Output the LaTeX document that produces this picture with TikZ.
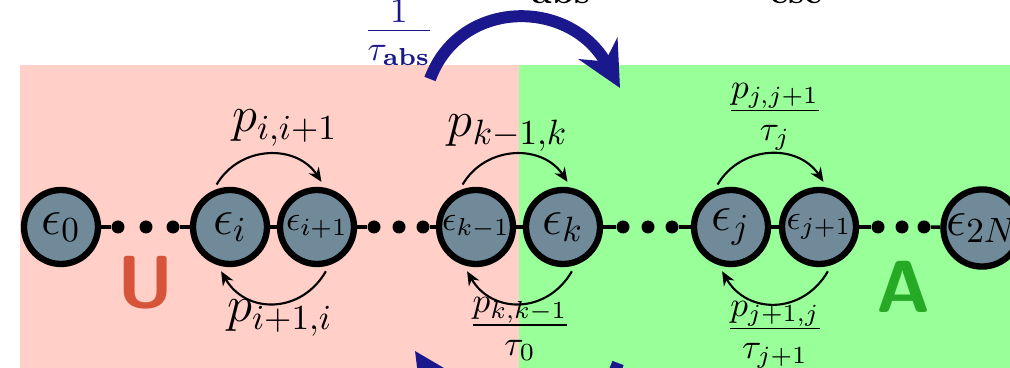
\documentclass[tikz,border=0pt]{standalone}
\usetikzlibrary{arrows.meta}
\definecolor{rosa}{RGB}{255,207,200}
\definecolor{verde}{RGB}{153,255,153}
\definecolor{gris}{RGB}{112,138,153}
\definecolor{azul}{RGB}{26,24,140}
\definecolor{rojoU}{RGB}{214,84,58}
\definecolor{verdeA}{RGB}{38,170,38}
\begin{document}
\begin{tikzpicture}[font=\Large,
    estado/.style={circle, draw, line width=1.8pt, fill=gris, minimum size=0.74cm, inner sep=0pt},
    punto/.style={circle, fill=black, inner sep=0pt, minimum size=0.13cm},
    salto/.style={-{Stealth[length=0.14cm,width=0.12cm]}, line width=0.6pt, shorten <=2pt, shorten >=2pt},
    arriba/.style={salto, bend left=58, looseness=1.2},
    abajo/.style={salto, bend left=60, looseness=1.3},
    flecha/.style={line width=3.4pt, draw=azul, -{Stealth[length=0.45cm,width=0.44cm]}}]
    \useasboundingbox (0,0) rectangle (10.10,-3.68);
    \clip (0,0) rectangle (10.10,-3.68);

    % Regiones U y A
    \fill[rosa] (0.20,-0.65) rectangle (5.19,-3.80);
    \fill[verde] (5.19,-0.65) rectangle (10.20,-3.80);
    \node (U) at (1.46,-2.83) [text=rojoU, font=\fontsize{21}{21}\sffamily\bfseries] {U};
    \node (A) at (9.04,-2.87) [text=verdeA, font=\fontsize{21}{21}\sffamily\bfseries] {A};

    % Estados
    \node (e0) at (0.61,-2.27) [estado] {$\epsilon_0$};
    \node (ei) at (2.30,-2.27) [estado] {$\epsilon_i$};
    \node (ei1) at (3.17,-2.27) [estado] {\normalsize$\epsilon_{i+1}$};
    \node (ek1) at (4.76,-2.27) [estado] {\normalsize$\epsilon_{k-1}$};
    \node (ek) at (5.63,-2.27) [estado] {$\epsilon_k$};
    \node (ej) at (7.31,-2.27) [estado] {$\epsilon_j$};
    \node (ej1) at (8.19,-2.27) [estado] {\normalsize$\epsilon_{j+1}$};
    \node (e2N) at (9.82,-2.28) [estado] {$\epsilon_{2N}$};

    % Puntos
    \node (d11) at (1.18,-2.27) [punto] {};
    \node (d12) at (1.46,-2.27) [punto] {};
    \node (d13) at (1.73,-2.27) [punto] {};
    \node (d21) at (3.74,-2.27) [punto] {};
    \node (d22) at (3.99,-2.27) [punto] {};
    \node (d23) at (4.23,-2.27) [punto] {};
    \node (d31) at (6.23,-2.27) [punto] {};
    \node (d32) at (6.48,-2.27) [punto] {};
    \node (d33) at (6.72,-2.27) [punto] {};
    \node (d41) at (8.78,-2.27) [punto] {};
    \node (d42) at (9.02,-2.27) [punto] {};
    \node (d43) at (9.24,-2.27) [punto] {};

    % Cadena
    \draw[line width=1pt] (e0) -- (d11);
    \draw[line width=1pt] (d13) -- (ei) -- (ei1) -- (d21);
    \draw[line width=1pt] (d23) -- (ek1) -- (ek) -- (d31);
    \draw[line width=1pt] (d33) -- (ej) -- (ej1) -- (d41);
    \draw[line width=1pt] (d43) -- (e2N);

    % Saltos
    \draw[arriba] (ei.115) to (ei1.78);
    \draw[abajo] (ei1.-72) to (ei.-108);
    \draw[arriba] (ek1.115) to (ek.78);
    \draw[abajo] (ek.-72) to (ek1.-108);
    \draw[arriba] (ej.115) to (ej1.78);
    \draw[abajo] (ej1.-72) to (ej.-108);
    \node (pii1) at (2.85,-1.28) {$p_{i,i+1}$};
    \node (pi1i) at (2.80,-3.18) {$p_{i+1,i}$};
    \node (pk1k) at (5.08,-1.33) {$p_{k-1,k}$};
    \node (pkk1) at (5.20,-3.29) {$\frac{p_{k,k-1}}{\tau_0}$};
    \node (pjj1) at (7.75,-1.17) {$\frac{p_{j,j+1}}{\tau_j}$};
    \node (pj1j) at (7.75,-3.35) {$\frac{p_{j+1,j}}{\tau_{j+1}}$};

    % Absorcion y escape
    \coordinate (abs-ini) at (4.30,-0.79);
    \coordinate (abs-fin) at (6.20,-0.88);
    \draw[flecha] (abs-ini) .. controls (4.60,0.02) and (5.70,0.02) .. (abs-fin);
    \node (tabs) at (3.99,-0.33) [text=azul] {$\frac{1}{\tau_{\mathbf{abs}}}$};
    \coordinate (esc-ini) at (6.18,-3.63);
    \coordinate (esc-fin) at (4.15,-3.51);
    \draw[flecha] (esc-ini) .. controls (5.88,-4.47) and (4.78,-4.47) .. (esc-fin);
    \node (abs) at (5.61,-0.035) [anchor=base] {\normalsize$\mathbf{abs}$};
    \node (esc) at (7.96,-0.035) [anchor=base] {\normalsize$\mathbf{esc}$};
  \end{tikzpicture}
\end{document}
